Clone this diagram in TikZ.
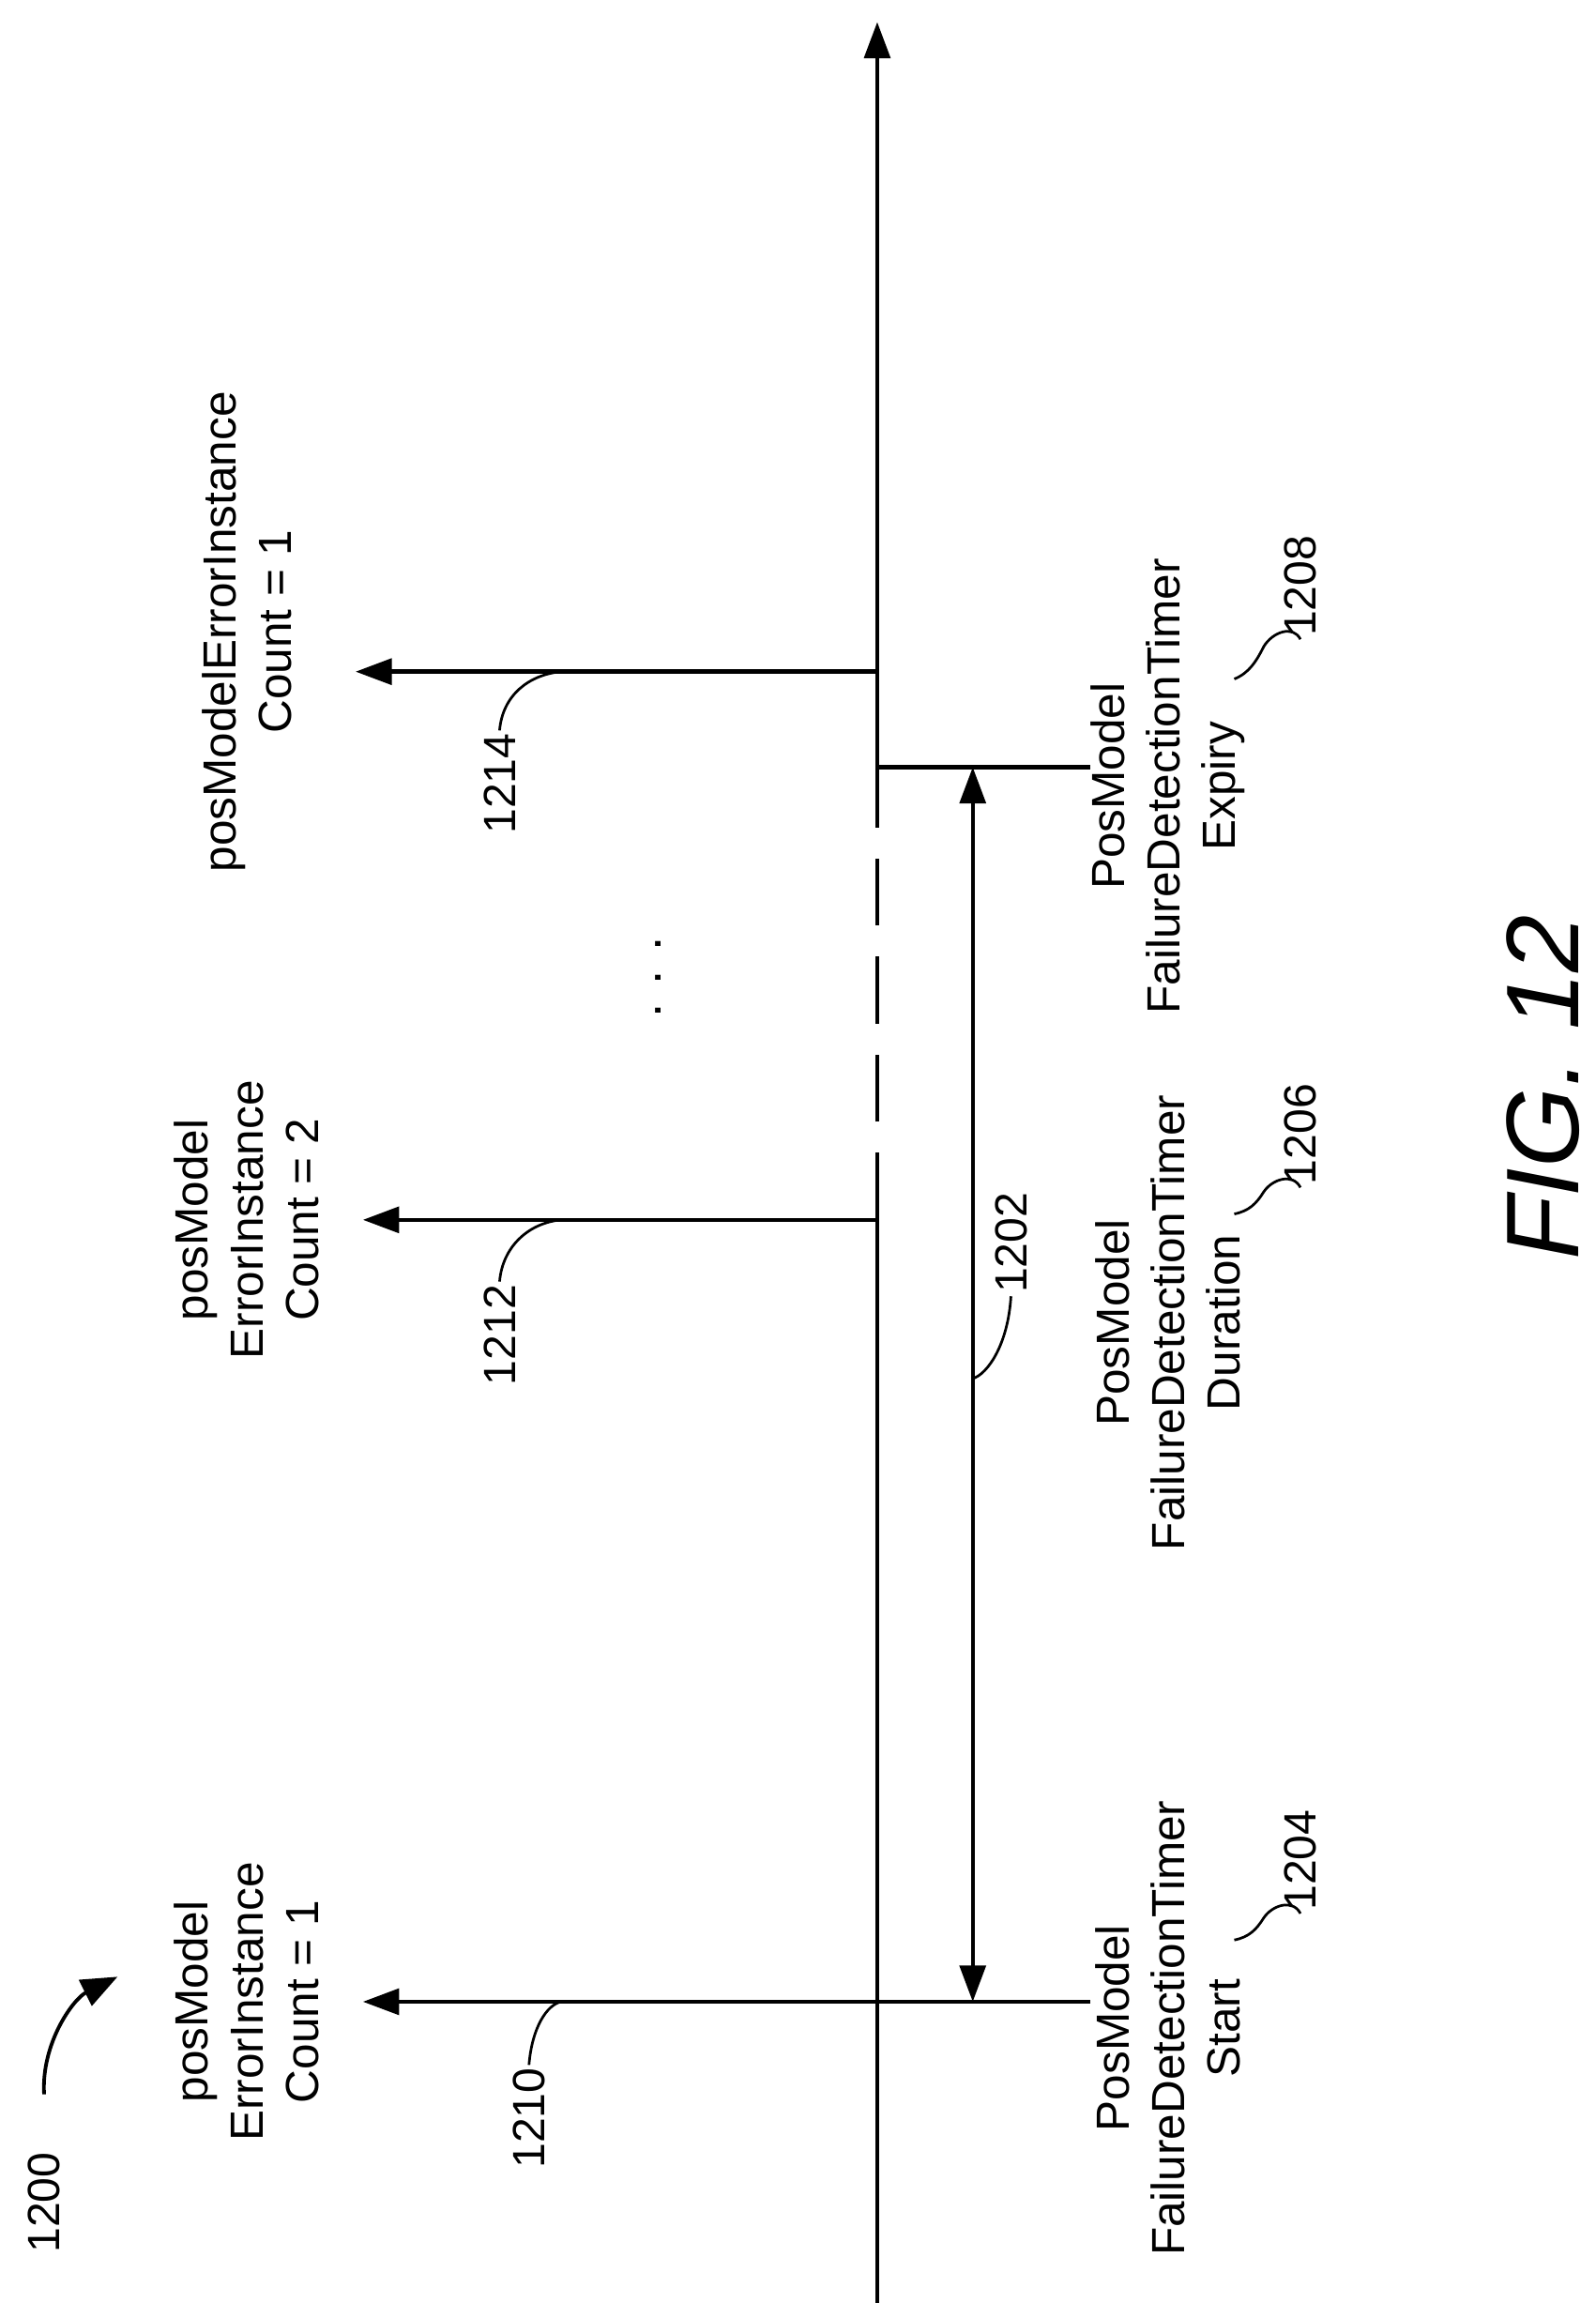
\documentclass[tikz,border=0pt]{standalone}
\usepackage{fontspec}
\setmainfont{Liberation Sans}
\usetikzlibrary{arrows.meta}
\begin{document}
\begin{tikzpicture}[x=0.02cm,y=-0.02cm,
  ln/.style={line width=1.6pt},
  arr/.style={ln,-{Triangle[length=14pt,width=10pt]}},
  lbl/.style={rotate=90,align=center,font=\fontsize{18}{21.5}\selectfont,inner sep=0pt},
  refn/.style={rotate=90,font=\fontsize{17.5}{21}\selectfont,inner sep=1pt},
  lead/.style={line width=1pt}]
\useasboundingbox (0,0) rectangle (1086,1567);
% axis
\coordinate (bot) at (597,1580);
\coordinate (top) at (597,15);
\coordinate (a1) at (597,1362);
\coordinate (a2) at (597,830);
\coordinate (a3) at (597,522);
\coordinate (a4) at (597,457);
\draw[ln] (bot) -- (a2);
\draw[ln,dash pattern=on 26pt off 12pt] (a2) -- (a3);
\draw[arr] (a3) -- (top);
% event arrows
\coordinate (e1) at (247,1362);
\coordinate (e2) at (247,830);
\coordinate (e3) at (242,457);
\draw[arr] (a1) -- (e1);
\draw[arr] (a2) -- (e2);
\draw[arr] (a4) -- (e3);
% timer lines
\coordinate (t1) at (742,1362);
\coordinate (t2) at (742,522);
\draw[ln] (a1) -- (t1);
\draw[ln] (a3) -- (t2);
\coordinate (d1) at (662,1362);
\coordinate (d2) at (662,522);
\draw[ln,{Triangle[length=14pt,width=10pt]}-{Triangle[length=14pt,width=10pt]}] (d1) -- (d2);
% labels
\node[lbl] (l1) at (168,1362) {posModel\\ErrorInstance\\Count = 1};
\node[lbl] (l2) at (168,830) {posModel\\ErrorInstance\\Count = 2};
\node[lbl] (l3) at (168,430) {posModelErrorInstance\\Count = 1};
\node[lbl] (l4) at (795,1380) {PosModel\\FailureDetectionTimer\\Start};
\node[lbl] (l5) at (795,900) {PosModel\\FailureDetectionTimer\\Duration};
\node[lbl] (l6) at (795,535) {PosModel\\FailureDetectionTimer\\Expiry};
\node[rotate=90,font=\fontsize{20}{24}\selectfont] (dots) at (448,665) {. . .};
% reference numerals
\node[refn,anchor=east] (r1210) at (360,1405) {1210};
\draw[lead] (r1210.east) .. controls (362,1380) and (372,1364) .. (382,1362);
\node[refn,anchor=east] (r1212) at (340,872) {1212};
\draw[lead] (r1212.east) .. controls (342,848) and (360,832) .. (382,830);
\node[refn,anchor=east] (r1214) at (340,497) {1214};
\draw[lead] (r1214.east) .. controls (342,473) and (360,459) .. (382,457);
\node[refn,anchor=west] (r1202) at (688,882) {1202};
\draw[lead] (r1202.west) .. controls (686,915) and (672,935) .. (662,938);
\node[refn,anchor=west] (r1204) at (885,1302) {1204};
\draw[lead] (r1204.west) .. controls (880,1292) and (866,1296) .. (860,1305) .. controls (855,1313) and (850,1318) .. (840,1320);
\node[refn,anchor=west] (r1206) at (885,808) {1206};
\draw[lead] (r1206.west) .. controls (880,798) and (866,802) .. (860,811) .. controls (855,819) and (850,824) .. (840,826);
\node[refn,anchor=west] (r1208) at (885,435) {1208};
\draw[lead] (r1208.west) .. controls (880,425) and (866,430) .. (860,440) .. controls (855,450) and (850,458) .. (840,462);
\node[refn,anchor=west] (r1200) at (30,1535) {1200};
\coordinate (c1200) at (80,1345);
\draw[lead,line width=1.4pt,-{Triangle[length=14pt,width=11pt]}] (30,1425) .. controls (28,1390) and (50,1360) .. (c1200);
\node[rotate=90,font=\itshape\fontsize{40}{46}\selectfont] (fig) at (1050,740) {FIG. 12};
\end{tikzpicture}
\end{document}
